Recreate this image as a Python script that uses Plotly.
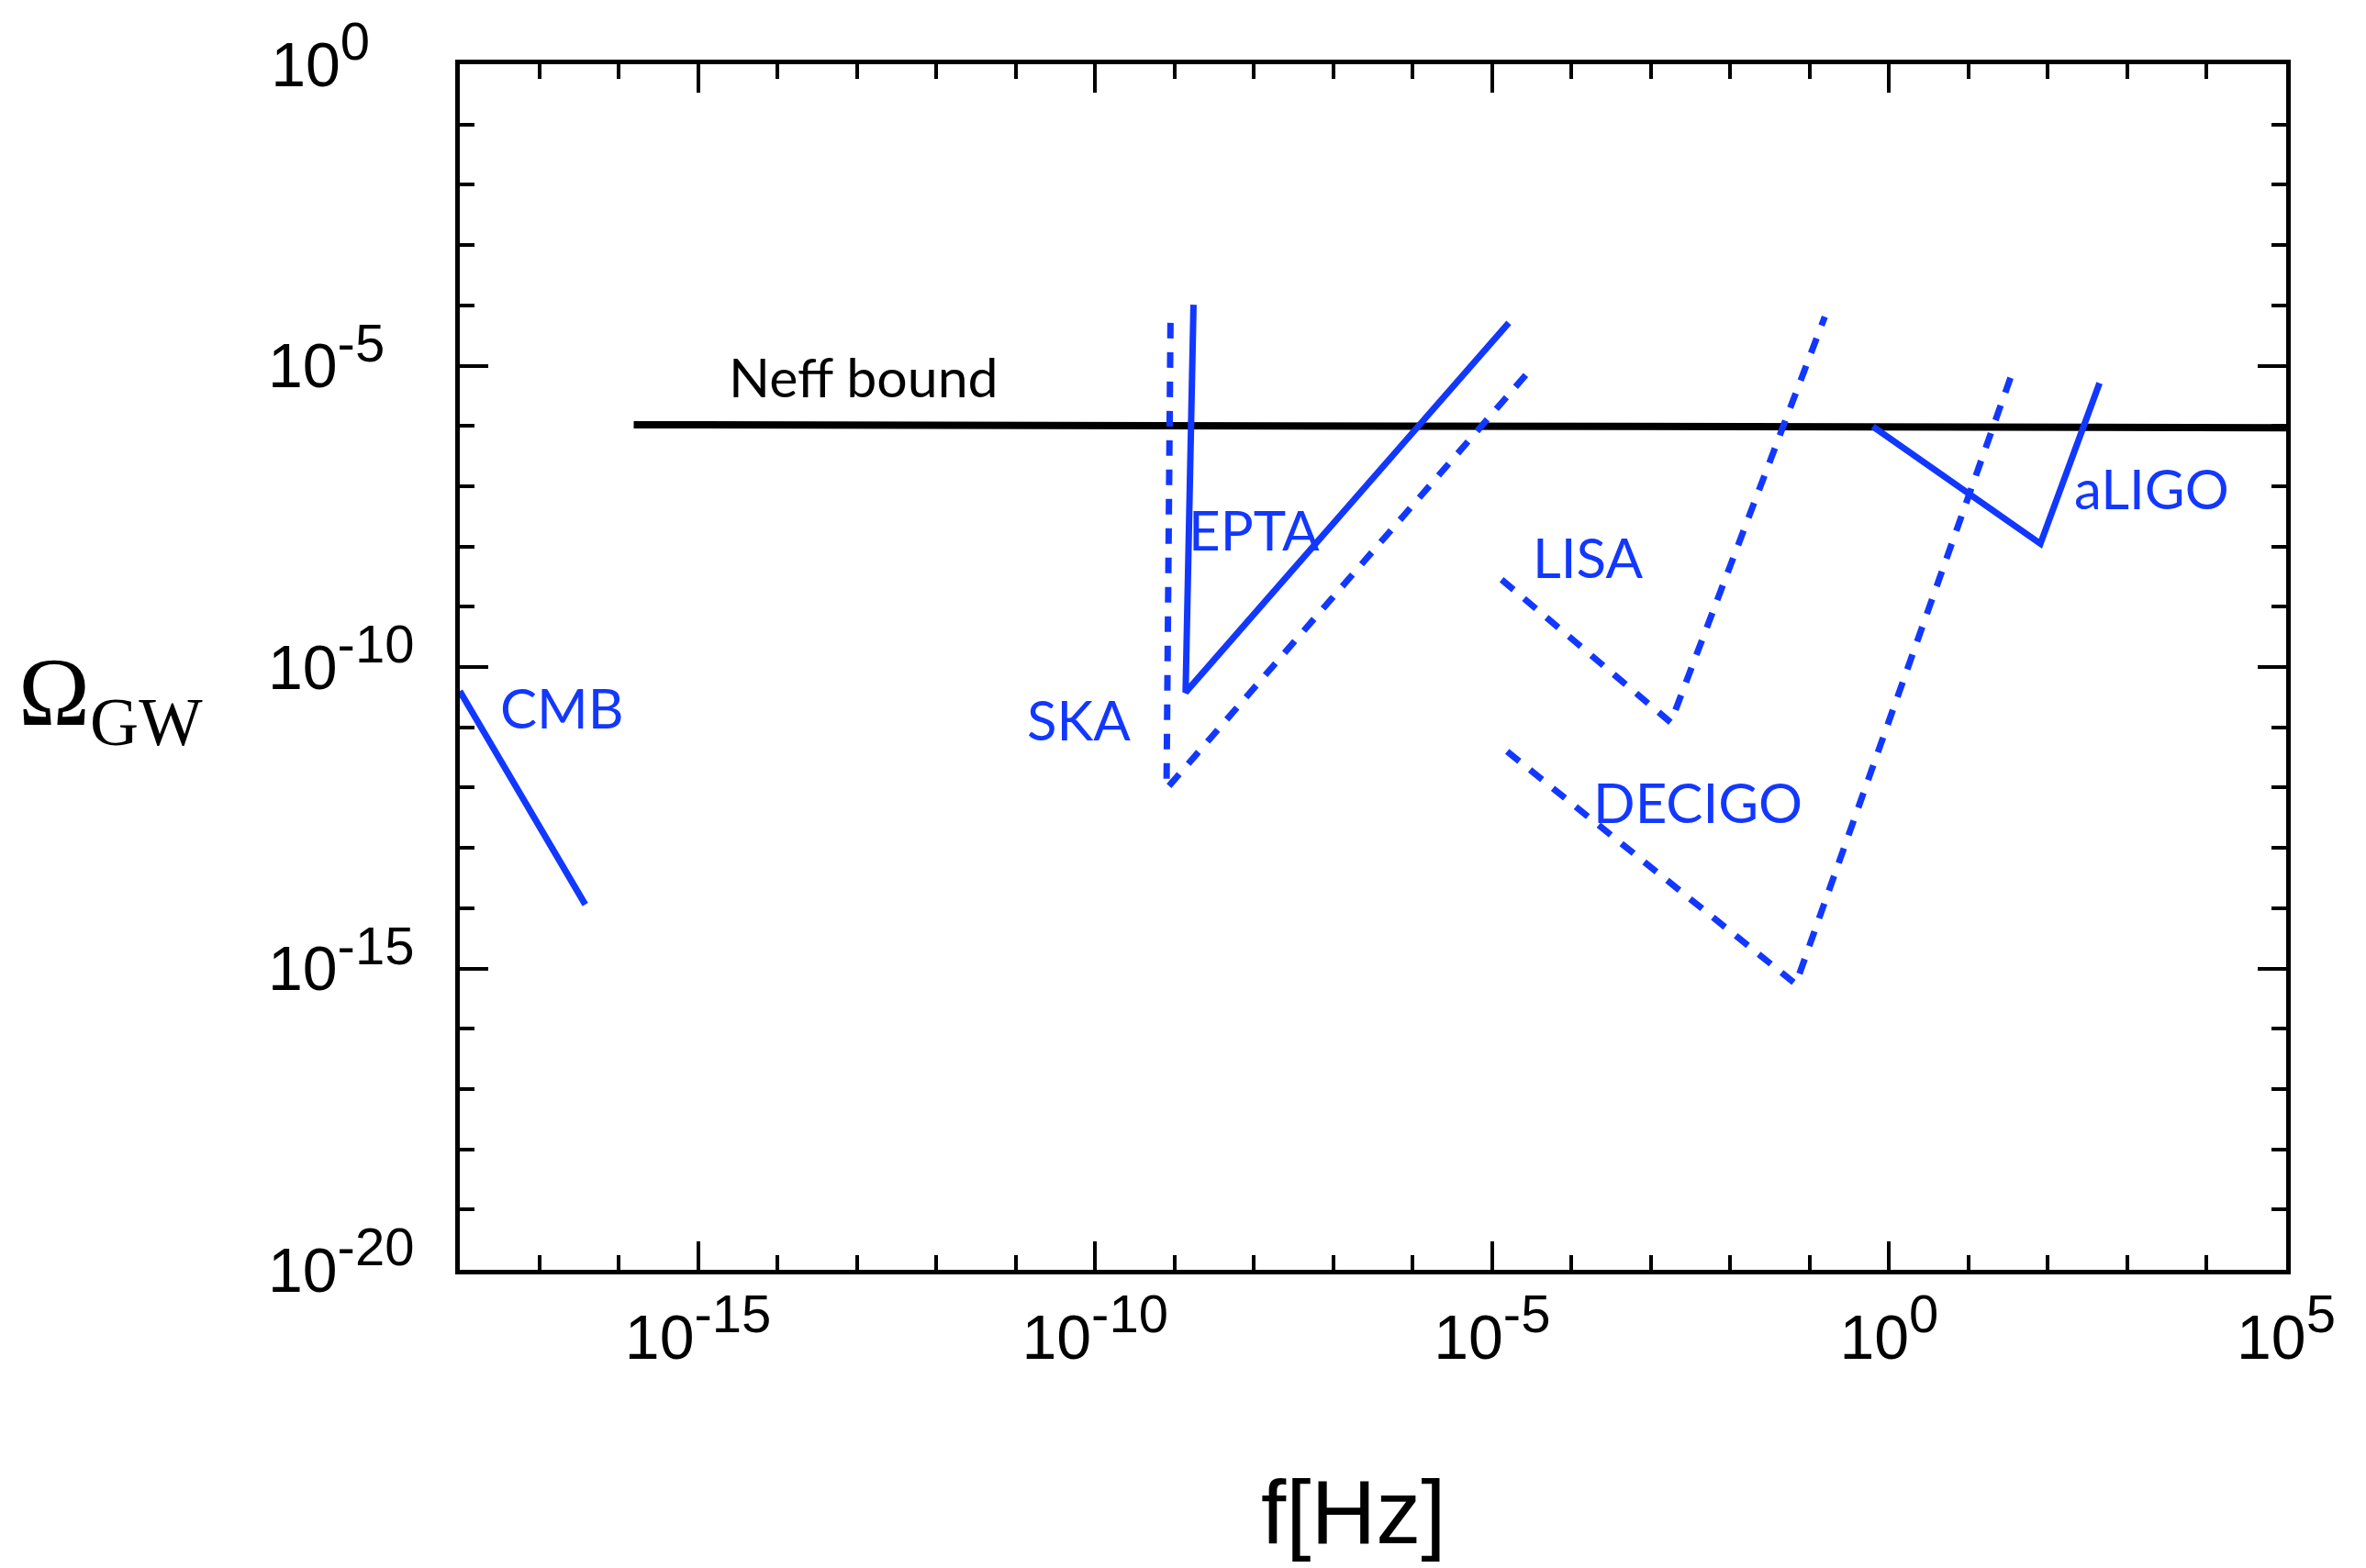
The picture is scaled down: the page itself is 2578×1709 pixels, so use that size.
import plotly.graph_objects as go

# ---- data (log10 f [Hz], log10 Omega_GW) ----
cmb_logf = [-18.0, -16.42]
cmb_logO = [-10.40, -13.94]

ska_logf = [-9.05, -9.10, -4.48]
ska_logO = [-4.29, -12.02, -5.01]

epta_logf = [-8.76, -8.86, -4.79]
epta_logO = [-3.99, -10.42, -4.29]

lisa_logf = [-4.88, -2.75, -0.81]
lisa_logO = [-8.55, -10.92, -4.19]

decigo_logf = [-4.81, -1.175, 1.58]
decigo_logO = [-11.40, -15.26, -5.01]

aligo_logf = [-0.205, 1.905, 2.65]
aligo_logO = [-6.01, -7.955, -5.29]

neff_logf = [-15.81, 5.0]
neff_logO = [-5.98, -6.03]

x_tick_exp = [-15, -10, -5, 0, 5]
y_tick_exp = [-20, -15, -10, -5, 0]

BLUE = "#1238ff"
DASH = "17px,15px"
SUP = 58
NB = "\u00a0"

def p(v):
    return [10 ** e for e in v]

def sup_label(e, pad=0):
    return f'10<sup><span style="font-size:{SUP}px">{e}{NB * pad}</span></sup>'

fig = go.Figure()

def add_line(xs, ys, color, dash, width):
    fig.add_trace(go.Scatter(x=p(xs), y=p(ys), mode="lines",
                             line=dict(color=color, width=width, dash=dash),
                             showlegend=False, hoverinfo="skip"))

add_line(neff_logf, neff_logO, "black", "solid", 8)
add_line(cmb_logf, cmb_logO, BLUE, "solid", 7)
add_line(ska_logf, ska_logO, BLUE, DASH, 7)
add_line(epta_logf, epta_logO, BLUE, "solid", 7)
add_line(lisa_logf, lisa_logO, BLUE, DASH, 7)
add_line(decigo_logf, decigo_logO, BLUE, DASH, 7)
add_line(aligo_logf, aligo_logO, BLUE, "solid", 7)

labels = [
    ("CMB", -16.71, -10.67, BLUE, 60),
    ("SKA", -10.21, -10.87, BLUE, 60),
    ("EPTA", -8.0, -7.71, BLUE, 60),
    ("LISA", -3.80, -8.18, BLUE, 60),
    ("DECIGO", -2.41, -12.24, BLUE, 60),
    ("aLIGO", 3.31, -7.03, BLUE, 60),
    ("Neff bound", -12.92, -5.19, "black", 59),
]
for txt, lx, ly, col, sz in labels:
    fig.add_annotation(x=lx, y=ly, xref="x", yref="y", text=txt, showarrow=False,
                       font=dict(family="Lato", size=sz, color=col),
                       xanchor="center", yanchor="middle")

fig.add_annotation(x=0.489, y=-0.201, xref="paper", yref="paper", text="f[Hz]",
                   showarrow=False, font=dict(family="Liberation Sans", size=98, color="black"),
                   xanchor="center", yanchor="middle")
fig.add_annotation(x=-0.191, y=0.473, xref="paper", yref="paper", text="Ω<sub>GW</sub>",
                   showarrow=False, font=dict(family="Liberation Serif", size=105, color="black"),
                   xanchor="center", yanchor="middle")

tickfont = dict(family="Liberation Sans", size=68, color="black")

# pad shorter y labels so that they line up on the left like the original
y_pad = {-20: 0, -15: 0, -10: 0, -5: 2, 0: 3}

fig.update_xaxes(
    type="log", range=[-18, 5],
    tickmode="array", tickvals=p(x_tick_exp),
    ticktext=[sup_label(e) for e in x_tick_exp],
    ticks="inside", ticklen=31, tickwidth=4, tickcolor="black",
    showline=True, linewidth=5, linecolor="black", mirror="ticks",
    showgrid=False, zeroline=False, tickfont=tickfont, ticklabelstandoff=10,
    minor=dict(tickmode="array", tickvals=p(list(range(-17, 5))), ticks="inside",
               ticklen=16, tickwidth=4, tickcolor="black", showgrid=False),
)
fig.update_yaxes(
    type="log", range=[-20, 0],
    tickmode="array", tickvals=p(y_tick_exp),
    ticktext=[sup_label(e, y_pad[e]) for e in y_tick_exp],
    ticks="inside", ticklen=31, tickwidth=4, tickcolor="black",
    showline=True, linewidth=5, linecolor="black", mirror="ticks",
    showgrid=False, zeroline=False, tickfont=tickfont, ticklabelstandoff=31,
    minor=dict(tickmode="array", tickvals=p(list(range(-19, 0))), ticks="inside",
               ticklen=16, tickwidth=4, tickcolor="black", showgrid=False),
)

fig.update_layout(
    width=2578, height=1709,
    margin=dict(l=501, r=87, t=66, b=325),
    paper_bgcolor="white", plot_bgcolor="white",
    showlegend=False,
)

fig.write_html("out.html")
